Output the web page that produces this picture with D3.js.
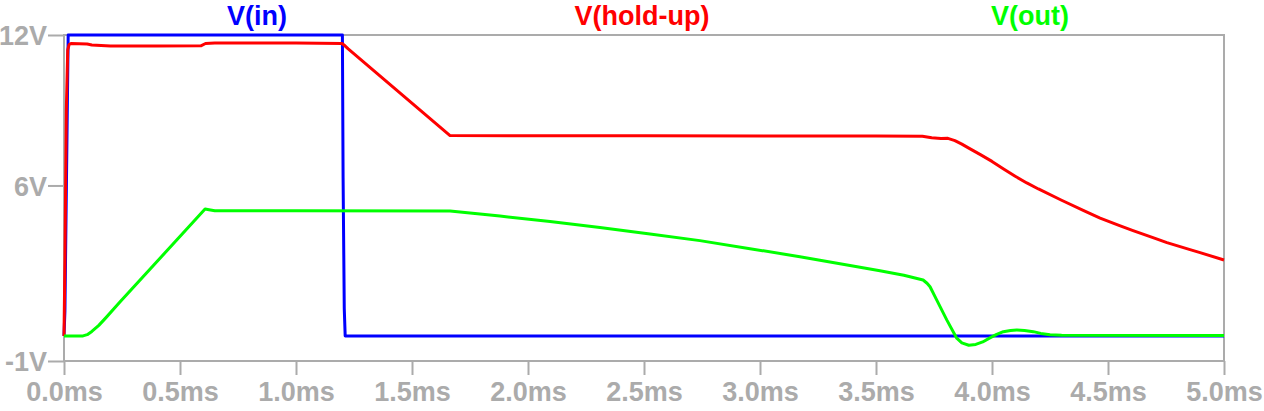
<!DOCTYPE html>
<html>
<head>
<meta charset="utf-8">
<script src="https://cdn.jsdelivr.net/npm/d3@7/dist/d3.min.js"></script>
<style>
  html, body { margin: 0; padding: 0; background: #fff; }
  svg { display: block; }
  text { font-family: "Liberation Sans", Arial, sans-serif; font-weight: bold; }
</style>
</head>
<body>
<svg id="chart" width="1264" height="411"></svg>
<script>
// ---- data (time in ms, voltage in V) ----
const xTicks = [0, 0.5, 1.0, 1.5, 2.0, 2.5, 3.0, 3.5, 4.0, 4.5, 5.0];
const xTickLabels = ["0.0ms","0.5ms","1.0ms","1.5ms","2.0ms","2.5ms","3.0ms","3.5ms","4.0ms","4.5ms","5.0ms"];
const yTicks = [12, 6, -1];
const yTickLabels = ["12V", "6V", "-1V"];
const seriesNames = ["V(in)", "V(hold-up)", "V(out)"];

const vinT = [0, 0.004, 0.018, 1.200, 1.203, 1.208, 1.212, 5.0];
const vinV = [0, 1.0, 12, 12, 6.3, 1.1, 0, 0];

const holdT = [0, 0.004, 0.010, 0.016, 0.022, 0.030, 0.10, 0.12, 0.20, 0.40, 0.59, 0.61, 0.65, 1.00, 1.198, 1.21, 1.225, 1.664, 2.5, 3.5, 3.70, 3.74, 3.78, 3.81, 3.84, 3.87, 3.90, 3.95, 4.00, 4.05, 4.10, 4.15, 4.20, 4.30, 4.40, 4.466, 4.55, 4.608, 4.70, 4.754, 4.85, 4.897, 5.0];
const holdV = [0, 3.0, 9.0, 11.4, 11.62, 11.66, 11.64, 11.60, 11.56, 11.56, 11.57, 11.66, 11.68, 11.68, 11.66, 11.58, 11.45, 7.99, 7.98, 7.97, 7.96, 7.90, 7.87, 7.88, 7.79, 7.65, 7.49, 7.23, 6.96, 6.66, 6.37, 6.10, 5.86, 5.41, 4.98, 4.70, 4.40, 4.20, 3.90, 3.72, 3.45, 3.32, 3.03];

const outT = [0, 0.082, 0.10, 0.12, 0.15, 0.18, 0.241, 0.608, 0.625, 0.65, 1.0, 1.664, 1.879, 2.095, 2.310, 2.526, 2.741, 2.957, 3.172, 3.388, 3.517, 3.62, 3.703, 3.72, 3.733, 3.762, 3.805, 3.848, 3.87, 3.90, 3.93, 3.96, 3.991, 4.02, 4.049, 4.08, 4.107, 4.14, 4.178, 4.21, 4.25, 4.30, 5.0];
const outV = [0, 0, 0.05, 0.18, 0.42, 0.72, 1.35, 5.06, 5.03, 4.99, 4.99, 4.98, 4.78, 4.56, 4.32, 4.06, 3.80, 3.48, 3.16, 2.81, 2.60, 2.42, 2.23, 2.10, 1.96, 1.43, 0.64, -0.09, -0.28, -0.37, -0.34, -0.24, -0.08, 0.06, 0.17, 0.22, 0.24, 0.22, 0.17, 0.10, 0.05, 0.03, 0.02];

// ---- layout ----
const svg = d3.select("#chart");
const mLeft = 64, mRight = 1224, mTop = 35, mBottom = 361;
const x = d3.scaleLinear().domain([0, 5]).range([mLeft, mRight]);
const y = d3.scaleLinear().domain([-1, 12]).range([mBottom, mTop]);
const gray = "#ababab";

// frame
svg.append("rect")
  .attr("x", mLeft).attr("y", mTop)
  .attr("width", mRight - mLeft).attr("height", mBottom - mTop)
  .attr("fill", "none").attr("stroke", gray).attr("stroke-width", 2);

// x axis
const xAxis = d3.axisBottom(x).tickValues(xTicks)
  .tickFormat((d, i) => xTickLabels[i]).tickSize(14).tickSizeOuter(0);
const gx = svg.append("g").attr("transform", `translate(0,${mBottom})`).call(xAxis);
gx.select(".domain").remove();
gx.selectAll(".tick line").attr("stroke", gray).attr("stroke-width", 2);
gx.selectAll(".tick text").attr("fill", gray).attr("font-size", 27)
  .attr("y", 40).attr("dy", 0)
  .style("font-family", "'Liberation Sans', Arial, sans-serif").style("font-weight", "bold");

// y axis
const yAxis = d3.axisLeft(y).tickValues(yTicks)
  .tickFormat((d, i) => yTickLabels[i]).tickSize(16).tickSizeOuter(0);
const gy = svg.append("g").attr("transform", `translate(${mLeft},0)`).call(yAxis);
gy.select(".domain").remove();
gy.selectAll(".tick line").attr("stroke", gray).attr("stroke-width", 2);
gy.selectAll(".tick text").attr("fill", gray).attr("font-size", 27)
  .attr("x", -17).attr("dy", "0.36em")
  .style("font-family", "'Liberation Sans', Arial, sans-serif").style("font-weight", "bold");

// traces
function toPts(ts, vs) { return ts.map((t, i) => [t, vs[i]]); }
const lineGen = d3.line().x(d => x(d[0])).y(d => y(d[1]));

const traces = [
  { pts: toPts(vinT, vinV), color: "#0000ff" },
  { pts: toPts(holdT, holdV), color: "#ff0000" },
  { pts: toPts(outT, outV), color: "#00ff00" }
];
traces.forEach(tr => {
  svg.append("path").attr("d", lineGen(tr.pts))
    .attr("fill", "none").attr("stroke", tr.color)
    .attr("stroke-width", 3).attr("stroke-linejoin", "round");
});

// legend labels
const legendX = [257, 642, 1030];
seriesNames.forEach((name, i) => {
  svg.append("text").attr("x", legendX[i]).attr("y", 25)
    .attr("text-anchor", "middle").attr("font-size", 27)
    .attr("fill", traces[i].color).text(name);
});
</script>
</body>
</html>
